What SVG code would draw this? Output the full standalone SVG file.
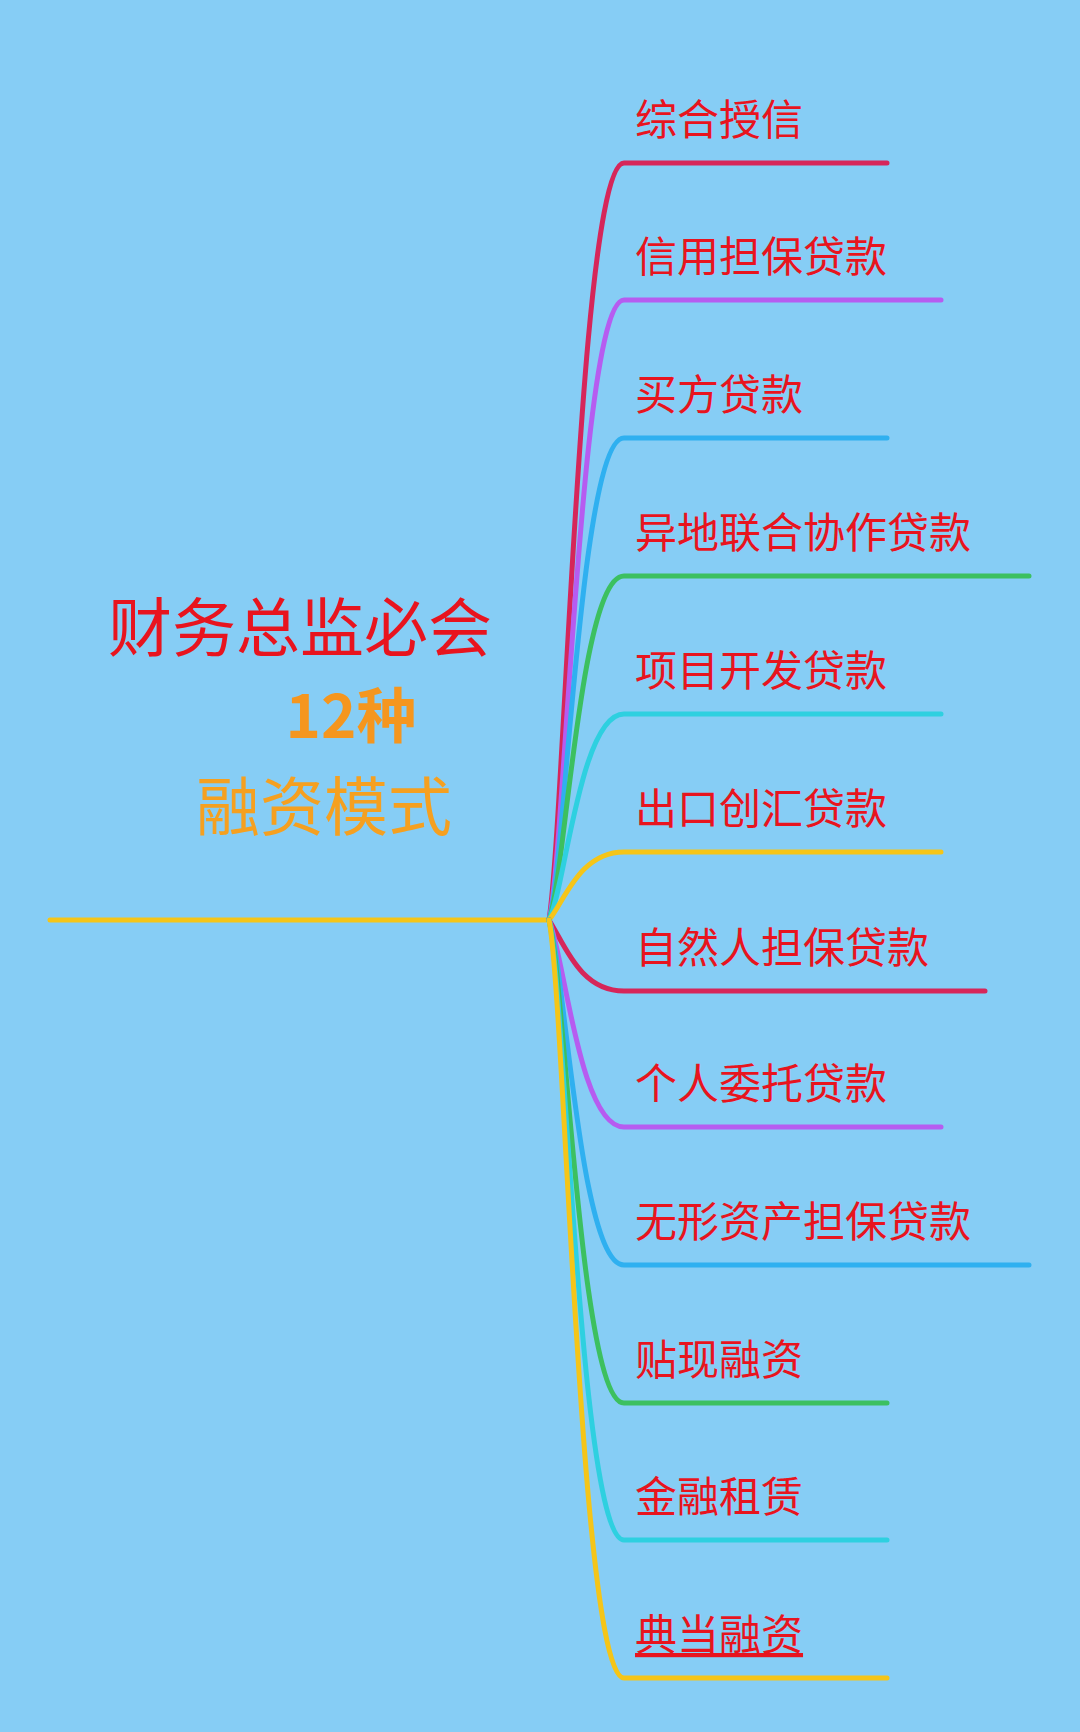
<svg xmlns="http://www.w3.org/2000/svg" width="1080" height="1732" viewBox="0 0 1080 1732">
<style>
.l{fill:none;stroke-width:5;stroke-linecap:round}
.t{font-family:"Noto Sans CJK SC","Liberation Sans",sans-serif;font-size:42px;fill:#e8141e}
.h{font-family:"Noto Sans CJK SC","Liberation Sans",sans-serif;font-size:64px;text-anchor:middle}
</style>
<rect width="1080" height="1732" fill="#86cdf5"/>
<g id="connectors">
<path class="l" stroke="#f5c518" d="M50,920 H549"/>
<path class="l" stroke="#d6265a" d="M549,920 C565,816 580,163 624,163 H887"/>
<path class="l" stroke="#b65cf0" d="M549,920 C565,858 580,300 624,300 H941"/>
<path class="l" stroke="#2fb0f0" d="M549,920 C565,870 580,438 624,438 H887"/>
<path class="l" stroke="#3cc060" d="M549,920 C565,880 580,576 624,576 H1029"/>
<path class="l" stroke="#2ed0e0" d="M549,920 C565,890 580,714 624,714 H941"/>
<path class="l" stroke="#f5c518" d="M549,920 C565,900 580,852 624,852 H941"/>
<path class="l" stroke="#d6265a" d="M549,920 C565,945 580,991 624,991 H985"/>
<path class="l" stroke="#b65cf0" d="M549,920 C565,960 580,1127 624,1127 H941"/>
<path class="l" stroke="#2fb0f0" d="M549,920 C565,970 580,1265 624,1265 H1029"/>
<path class="l" stroke="#3cc060" d="M549,920 C565,980 580,1403 624,1403 H887"/>
<path class="l" stroke="#2ed0e0" d="M549,920 C565,990 580,1540 624,1540 H887"/>
<path class="l" stroke="#f5c518" d="M549,920 C565,1000 580,1678 624,1678 H887"/>
</g>
<g id="root">
<text class="h" x="300" y="651" fill="#e8141e">财务总监必会</text>
<text class="h" x="351" y="738" fill="#f5961e" font-weight="bold" style="font-size:60px">12种</text>
<text class="h" x="324" y="830" fill="#f5a020">融资模式</text>
</g>
<g id="n1"><text class="t" x="635" y="135">综合授信</text></g>
<g id="n2"><text class="t" x="635" y="272">信用担保贷款</text></g>
<g id="n3"><text class="t" x="635" y="410">买方贷款</text></g>
<g id="n4"><text class="t" x="635" y="548">异地联合协作贷款</text></g>
<g id="n5"><text class="t" x="635" y="686">项目开发贷款</text></g>
<g id="n6"><text class="t" x="635" y="824">出口创汇贷款</text></g>
<g id="n7"><text class="t" x="635" y="963">自然人担保贷款</text></g>
<g id="n8"><text class="t" x="635" y="1099">个人委托贷款</text></g>
<g id="n9"><text class="t" x="635" y="1237">无形资产担保贷款</text></g>
<g id="n10"><text class="t" x="635" y="1375">贴现融资</text></g>
<g id="n11"><text class="t" x="635" y="1512">金融租赁</text></g>
<g id="n12"><text class="t" x="635" y="1650" text-decoration="underline">典当融资</text></g>
</svg>
